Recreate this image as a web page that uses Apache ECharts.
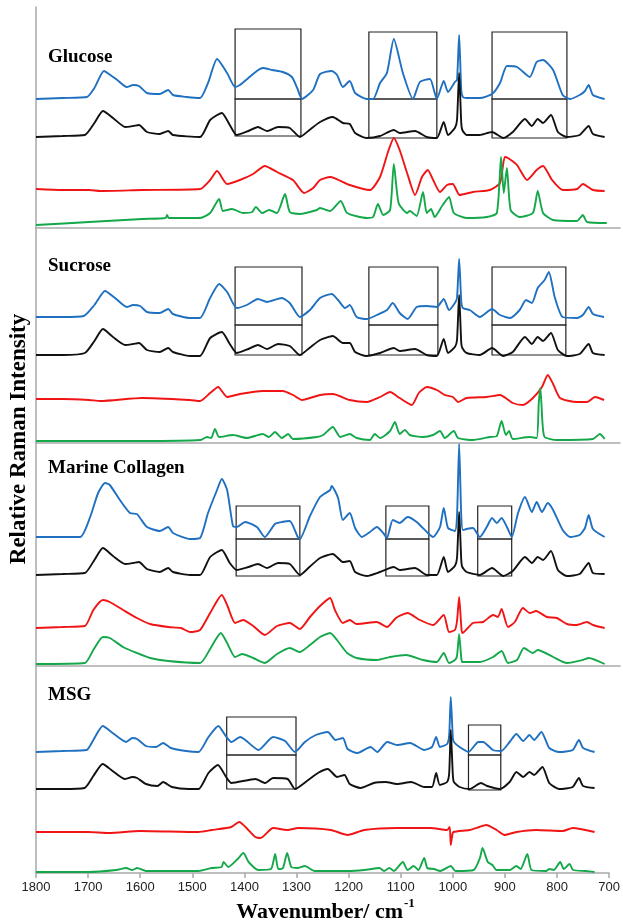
<!DOCTYPE html>
<html><head><meta charset="utf-8">
<script src="https://cdn.jsdelivr.net/npm/echarts@6/dist/echarts.min.js"></script>
<style>html,body{margin:0;padding:0;background:#fff}#c{width:623px;height:923px}</style>
</head><body><div id="c"></div><script>
// Wavenumber range and tick labels
const xMin = 700, xMax = 1800, xStep = 100;
const panelNames = ['Glucose', 'Sucrose', 'Marine Collagen', 'MSG'];

// ---- Glucose (relative intensity, stacked offsets as plotted) ----
const glucoseBlue = [[1800,129],[1750,130],[1704,131],[1690,140],[1672,157],[1660,153],[1647,148],[1629,141],[1617,143],[1606,142],[1591,135],[1567,134],[1551,138],[1542,133],[1516,131],[1491,130],[1476,145],[1459,169],[1440,155],[1425,141],[1416,143],[1400,150],[1384,157],[1373,160],[1355,158],[1335,156],[1318,151],[1308,140],[1299,129],[1278,138],[1265,154],[1243,157],[1233,153],[1222,141],[1209,147],[1199,135],[1177,129],[1165,129],[1152,145],[1139,155],[1126,189],[1109,155],[1090,129],[1077,146],[1058,149],[1049,135],[1045,129],[1032,147],[1024,136],[1011,146],[1007,148],[1003,193],[999,138],[996,131],[989,130],[964,130],[941,134],[926,145],[913,162],[894,161],[870,151],[857,166],[845,168],[826,158],[808,133],[794,129],[776,133],[766,137],[759,143],[751,133],[729,129]];
const glucoseBlack = [[1800,91],[1750,92],[1708,93],[1690,105],[1674,117],[1655,110],[1632,101],[1617,102],[1606,103],[1591,96],[1567,94],[1551,97],[1542,93],[1491,91],[1472,108],[1450,115],[1435,103],[1422,93],[1400,97],[1382,101],[1365,97],[1344,101],[1322,100],[1303,91],[1285,98],[1265,106],[1241,111],[1222,105],[1209,104],[1199,95],[1177,90],[1152,92],[1126,98],[1115,95],[1086,97],[1064,91],[1045,90],[1032,106],[1024,93],[1011,100],[1007,108],[1003,155],[999,105],[997,98],[989,93],[964,93],[941,96],[920,90],[902,96],[879,109],[866,102],[855,109],[845,105],[830,113],[817,96],[800,91],[776,93],[759,102],[751,94],[729,91]];
const glucoseRed = [[1800,39],[1750,38],[1700,38],[1679,37],[1600,38],[1491,39],[1472,48],[1459,57],[1440,44],[1416,48],[1391,54],[1369,62],[1346,56],[1316,48],[1295,35],[1278,40],[1265,48],[1246,51],[1209,43],[1171,38],[1152,51],[1137,76],[1126,90],[1115,78],[1101,55],[1086,33],[1073,51],[1062,58],[1052,48],[1039,36],[1026,43],[1015,44],[1002,33],[977,36],[945,38],[926,45],[917,71],[911,70],[894,63],[875,48],[857,58],[845,62],[828,48],[808,38],[781,39],[770,44],[751,38],[729,37]];
const glucoseGreen = [[1800,3],[1700,6],[1600,9],[1556,10],[1553,13],[1550,10],[1491,10],[1472,15],[1455,29],[1448,17],[1431,19],[1410,15],[1393,16],[1386,21],[1374,15],[1361,18],[1346,15],[1331,34],[1322,16],[1303,14],[1271,18],[1265,20],[1246,17],[1226,27],[1214,15],[1177,10],[1165,11],[1156,24],[1146,13],[1133,18],[1126,64],[1117,25],[1101,15],[1096,17],[1083,12],[1071,36],[1064,15],[1056,19],[1049,11],[1034,23],[1022,31],[1013,15],[989,10],[951,11],[932,15],[924,71],[919,35],[913,60],[906,18],[889,11],[864,15],[855,37],[845,15],[826,8],[781,7],[770,13],[762,6],[725,5]];

// ---- Sucrose ----
const sucroseBlue = [[1800,126],[1750,126],[1710,127],[1690,138],[1670,152],[1651,145],[1629,136],[1617,138],[1604,137],[1591,131],[1567,130],[1551,134],[1542,129],[1510,125],[1491,125],[1472,145],[1455,159],[1440,151],[1422,135],[1403,138],[1382,144],[1365,141],[1337,145],[1322,140],[1303,126],[1284,133],[1265,145],[1243,149],[1231,143],[1218,135],[1209,138],[1196,126],[1177,124],[1158,128],[1139,133],[1128,140],[1115,130],[1100,124],[1083,136],[1064,137],[1045,136],[1032,144],[1022,133],[1011,140],[1007,145],[1003,184],[999,142],[996,135],[983,133],[964,126],[941,134],[926,128],[907,125],[889,133],[877,143],[866,140],[855,155],[842,163],[834,171],[823,146],[808,126],[781,125],[770,128],[759,136],[751,129],[730,126]];
const sucroseBlack = [[1800,88],[1750,88],[1708,90],[1690,102],[1674,114],[1655,106],[1632,98],[1617,99],[1606,100],[1591,93],[1567,91],[1551,95],[1542,91],[1510,87],[1491,87],[1472,105],[1450,111],[1435,99],[1422,90],[1400,94],[1382,98],[1365,94],[1344,99],[1322,97],[1303,88],[1285,95],[1265,103],[1241,107],[1222,100],[1209,100],[1199,91],[1177,87],[1152,90],[1126,95],[1115,92],[1086,94],[1064,88],[1045,87],[1032,104],[1024,90],[1011,96],[1007,103],[1003,148],[999,100],[997,95],[989,90],[964,88],[941,95],[920,87],[902,91],[879,106],[866,99],[855,106],[845,102],[830,110],[817,93],[800,87],[776,89],[759,99],[751,90],[729,88]];
const sucroseRed = [[1800,44],[1750,44],[1700,43],[1679,42],[1600,45],[1510,43],[1491,42],[1472,50],[1457,56],[1440,46],[1416,49],[1373,52],[1335,52],[1316,48],[1299,43],[1265,48],[1241,49],[1209,43],[1177,41],[1152,46],[1133,51],[1115,45],[1092,38],[1079,50],[1064,56],[1045,53],[1030,48],[1015,46],[1005,41],[989,45],[951,46],[926,48],[902,40],[883,38],[864,45],[847,56],[836,68],[826,59],[813,45],[781,41],[762,41],[747,46],[730,43]];
const sucroseGreen = [[1800,2],[1600,2],[1490,3],[1478,6],[1470,5],[1463,14],[1455,6],[1429,8],[1403,5],[1373,9],[1361,6],[1350,11],[1337,5],[1325,9],[1316,4],[1271,6],[1259,8],[1241,16],[1227,6],[1209,9],[1196,5],[1171,3],[1162,9],[1152,5],[1133,12],[1124,21],[1115,9],[1105,13],[1096,8],[1071,6],[1052,8],[1039,12],[1030,5],[1013,12],[1005,5],[977,3],[945,6],[932,7],[923,22],[915,8],[909,12],[902,4],[870,6],[857,5],[853,40],[850,55],[846,20],[842,6],[819,3],[751,4],[738,9],[729,4]];

// ---- Marine Collagen ----
const marineBlue = [[1800,129],[1717,129],[1698,149],[1683,173],[1670,183],[1661,181],[1642,166],[1623,153],[1610,152],[1604,148],[1591,139],[1567,135],[1551,139],[1542,133],[1510,127],[1491,128],[1476,153],[1459,176],[1450,187],[1440,176],[1429,140],[1422,139],[1406,144],[1384,139],[1369,129],[1350,142],[1337,144],[1322,145],[1307,129],[1303,127],[1284,150],[1265,169],[1246,176],[1243,180],[1231,168],[1222,146],[1209,153],[1199,138],[1186,129],[1171,134],[1158,139],[1146,133],[1139,128],[1128,146],[1115,143],[1100,149],[1083,144],[1062,133],[1052,129],[1039,139],[1032,158],[1024,138],[1011,135],[1007,150],[1003,222],[999,150],[996,136],[989,137],[977,138],[964,129],[951,139],[941,148],[932,143],[923,148],[913,139],[904,129],[892,153],[879,169],[866,154],[857,164],[847,154],[836,163],[826,156],[808,136],[794,129],[776,131],[766,138],[759,151],[751,137],[729,129]];
const marineBlack = [[1800,91],[1750,92],[1708,93],[1690,106],[1674,118],[1655,110],[1632,102],[1617,103],[1606,104],[1591,97],[1567,94],[1551,98],[1542,94],[1510,91],[1491,91],[1472,109],[1450,116],[1435,103],[1422,96],[1400,99],[1382,102],[1365,98],[1344,103],[1322,102],[1303,91],[1285,99],[1265,108],[1241,112],[1222,104],[1209,105],[1199,94],[1177,90],[1152,94],[1126,99],[1115,96],[1086,98],[1064,91],[1045,91],[1032,109],[1024,94],[1011,100],[1007,108],[1003,154],[999,106],[997,99],[989,94],[964,91],[941,98],[920,90],[902,95],[879,109],[866,103],[855,109],[845,106],[830,115],[817,96],[800,90],[776,92],[759,103],[751,93],[729,92]];
const marineRed = [[1800,38],[1750,39],[1708,40],[1692,56],[1674,66],[1661,64],[1636,56],[1610,48],[1585,42],[1551,39],[1527,38],[1510,34],[1491,36],[1472,53],[1450,71],[1440,61],[1425,43],[1410,46],[1391,40],[1369,31],[1346,40],[1322,43],[1303,37],[1284,49],[1265,60],[1246,68],[1237,56],[1222,43],[1209,46],[1196,42],[1158,44],[1139,39],[1122,48],[1100,53],[1077,46],[1052,41],[1032,51],[1022,34],[1011,36],[1007,45],[1003,69],[999,40],[997,33],[977,43],[958,44],[939,51],[930,49],[923,57],[911,39],[898,44],[883,58],[870,53],[858,55],[838,49],[819,48],[800,42],[781,41],[762,44],[751,41],[729,38]];
const marineGreen = [[1800,2],[1708,3],[1692,16],[1674,29],[1661,28],[1636,19],[1610,13],[1585,8],[1551,5],[1491,3],[1472,17],[1452,33],[1440,23],[1425,9],[1412,12],[1391,8],[1369,3],[1346,12],[1322,18],[1303,14],[1284,21],[1265,29],[1246,33],[1233,26],[1214,13],[1196,8],[1158,6],[1133,9],[1103,11],[1071,6],[1045,4],[1032,13],[1022,3],[1011,6],[1007,10],[1003,32],[999,8],[997,4],[964,4],[939,9],[923,15],[911,3],[894,6],[881,18],[864,13],[855,16],[826,9],[800,3],[770,6],[759,8],[729,2]];

// ---- MSG ----
const msgBlue = [[1800,121],[1750,122],[1703,123],[1690,133],[1672,147],[1653,140],[1627,131],[1615,135],[1606,134],[1589,127],[1570,126],[1556,130],[1541,125],[1512,122],[1488,121],[1469,136],[1450,147],[1436,137],[1425,131],[1408,136],[1373,123],[1345,136],[1322,132],[1303,121],[1284,131],[1263,138],[1240,141],[1225,133],[1211,135],[1202,124],[1183,120],[1158,126],[1145,121],[1126,131],[1107,128],[1082,130],[1055,123],[1040,126],[1032,136],[1025,126],[1011,129],[1007,138],[1004,176],[1000,135],[998,131],[987,126],[970,121],[951,131],[942,131],[923,123],[907,122],[891,131],[878,139],[865,132],[853,138],[844,133],[830,141],[815,125],[796,121],[770,123],[758,133],[750,125],[728,121]];
const msgBlack = [[1800,84],[1750,84],[1707,85],[1690,97],[1672,109],[1653,102],[1630,94],[1615,96],[1606,95],[1589,89],[1567,87],[1556,91],[1539,86],[1507,84],[1488,84],[1469,100],[1451,108],[1434,95],[1425,90],[1379,94],[1360,90],[1345,95],[1317,94],[1303,84],[1280,92],[1259,100],[1240,104],[1222,96],[1208,98],[1198,89],[1177,85],[1152,90],[1129,91],[1107,89],[1080,91],[1055,86],[1040,86],[1032,100],[1025,88],[1011,91],[1007,100],[1004,143],[1000,98],[998,91],[987,86],[968,84],[946,90],[934,87],[910,84],[891,91],[878,101],[865,96],[853,101],[844,98],[828,106],[815,90],[796,84],[770,86],[758,95],[750,87],[728,85]];
const msgRed = [[1800,41],[1700,41],[1660,40],[1600,42],[1488,41],[1463,43],[1425,46],[1410,51],[1396,45],[1379,36],[1369,35],[1345,45],[1317,43],[1297,45],[1234,43],[1202,38],[1170,43],[1107,45],[1043,45],[1011,43],[1006,46],[1004,28],[1001,38],[999,41],[968,43],[949,46],[936,48],[916,43],[901,38],[878,41],[840,43],[789,42],[770,45],[728,41]];
const msgGreen = [[1800,1],[1700,1],[1646,3],[1627,5],[1615,3],[1606,5],[1589,2],[1488,2],[1463,5],[1444,6],[1440,11],[1431,6],[1413,14],[1402,20],[1392,11],[1373,3],[1349,4],[1341,19],[1335,4],[1326,5],[1318,20],[1310,6],[1297,5],[1284,7],[1265,2],[1202,2],[1170,3],[1141,5],[1132,2],[1122,5],[1113,2],[1096,11],[1087,3],[1075,7],[1066,3],[1055,15],[1049,5],[1036,4],[1024,2],[1004,7],[995,2],[960,3],[948,15],[943,25],[933,11],[924,8],[916,3],[891,3],[878,7],[870,4],[857,19],[849,3],[821,2],[815,4],[806,3],[794,11],[787,4],[776,9],[769,3],[745,2],[728,1]];

// ---- Highlight boxes: [wavenumber from, wavenumber to, top, middle, bottom] ----
const glucoseBoxes = [[1425,1301,199,129,92],[1173,1045,196,129,90],[941,800,196,129,90]];
const sucroseBoxes = [[1425,1299,176,118,88],[1173,1043,176,118,88],[941,802,176,118,88]];
const marineBoxes  = [[1423,1303,160,127,90],[1141,1060,160,127,90],[968,904,160,127,90]];
const msgBoxes     = [[1434,1301,156,118,84],[970,908,148,118,83]];

// ---- layout / style ----
const traceColors = ['#1f70c1', '#111111', '#f01414', '#14a84a'];
const panels = [
  {series:[glucoseBlue, glucoseBlack, glucoseRed, glucoseGreen], boxes: glucoseBoxes, top: 7, height: 221, right: 3, labelY: 56},
  {series:[sucroseBlue, sucroseBlack, sucroseRed, sucroseGreen], boxes: sucroseBoxes, top: 228, height: 215, right: 3, labelY: 265},
  {series:[marineBlue, marineBlack, marineRed, marineGreen], boxes: marineBoxes, top: 443, height: 223, right: 3, labelY: 467},
  {series:[msgBlue, msgBlack, msgRed, msgGreen], boxes: msgBoxes, top: 666, height: 207, right: 10, labelY: 694}
];

const grid = [], xAxis = [], yAxis = [], series = [], graphic = [];
const axisGray = '#a9a9a9';
panels.forEach((p, i) => {
  const last = i === panels.length - 1;
  grid.push({left: 36, right: p.right, top: p.top, height: p.height, containLabel: false});
  xAxis.push({
    type: 'value', gridIndex: i, inverse: true, min: xMin, max: xMax, interval: xStep,
    axisLine: {show: true, onZero: false, lineStyle: {color: axisGray, width: 1.5}},
    axisTick: {show: last, length: 5, lineStyle: {color: axisGray, width: 1.5}},
    axisLabel: {show: last, fontSize: 13, color: '#222', fontFamily: 'Liberation Sans', margin: 8,
      formatter: v => String(v)},
    splitLine: {show: false}
  });
  yAxis.push({
    type: 'value', gridIndex: i, min: 0, max: p.height,
    axisLine: {show: true, lineStyle: {color: axisGray, width: 1.5}},
    axisTick: {show: false}, axisLabel: {show: false}, splitLine: {show: false}
  });
  p.series.forEach((d, k) => {
    const s = {
      type: 'line', xAxisIndex: i, yAxisIndex: i, data: d, showSymbol: false, symbol: 'none',
      smooth: 0.2,
      lineStyle: {color: traceColors[k], width: 1.9}, itemStyle: {color: traceColors[k]},
      clip: false, silent: true, animation: false, z: 2 + k
    };
    if (k === 0) {
      const areas = [];
      p.boxes.forEach(b => {
        areas.push([{coord: [b[0], b[2]]}, {coord: [b[1], b[3]]}]);
        areas.push([{coord: [b[0], b[3]]}, {coord: [b[1], b[4]]}]);
      });
      s.markArea = {silent: true, label: {show: false},
        itemStyle: {color: 'rgba(0,0,0,0)', borderColor: '#222', borderWidth: 1.2},
        data: areas};
    }
    series.push(s);
  });
  graphic.push({type: 'text', left: 48, top: p.labelY - 8,
    style: {text: panelNames[i], font: 'bold 19px "Liberation Serif"', fill: '#000'}});
});

graphic.push({type: 'text', x: 19, y: 439, rotation: Math.PI / 2,
  style: {text: 'Relative Raman Intensity', font: 'bold 23px "Liberation Serif"', fill: '#000',
    textAlign: 'center', textVerticalAlign: 'middle'}});
graphic.push({type: 'text', x: 403, y: 912,
  style: {text: 'Wavenumber/ cm', font: 'bold 22px "Liberation Serif"', fill: '#000',
    textAlign: 'right', textVerticalAlign: 'middle'}});
graphic.push({type: 'text', x: 404, y: 904,
  style: {text: '-1', font: 'bold 13px "Liberation Serif"', fill: '#000',
    textAlign: 'left', textVerticalAlign: 'middle'}});

const chart = echarts.init(document.getElementById('c'));
chart.setOption({animation: false, backgroundColor: '#fff', grid, xAxis, yAxis, series, graphic});
</script></body></html>
